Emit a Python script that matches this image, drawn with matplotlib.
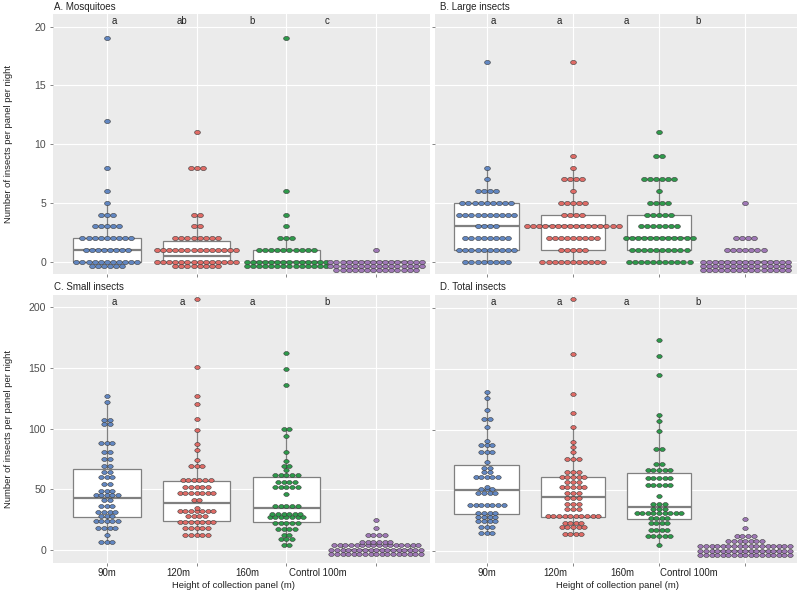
import numpy as np
import matplotlib
matplotlib.use("Agg")
import matplotlib.pyplot as plt
from matplotlib.path import Path
from matplotlib.transforms import blended_transform_factory

plt.rcParams['font.family'] = ['Liberation Sans', 'DejaVu Sans']

# ---------------- data ----------------
GROUPS = ["90m", "120m", "160m", "Control 100m"]
COLORS = ["#6287C2", "#DF6B66", "#2E9A4B", "#9F78B6"]

# Panel A: Mosquitoes  (value, count of nights)
A_VALUES = [[0, 1, 2, 3, 4, 5, 6, 8, 12, 19],
            [0, 1, 2, 3, 4, 8, 11],
            [0, 1, 2, 3, 4, 6, 19],
            [0, 1]]
A_COUNTS = [[17, 8, 9, 5, 3, 1, 1, 1, 1, 1],
            [22, 14, 8, 2, 2, 3, 1],
            [28, 10, 3, 1, 1, 1, 1],
            [46, 1]]
# box stats: q1, median, q3, lower whisker, upper whisker
A_BOX = [[0, 1, 2, 0, 5], [0, 0.5, 1.75, 0, 4], [0, 0, 1, 0, 2], [0, 0, 0, 0, 0]]
A_LETTERS = ["a", "ab", "b", "c"]

# Panel B: Large insects
B_VALUES = [[0, 1, 2, 3, 4, 5, 6, 7, 8, 17],
            [0, 1, 2, 3, 4, 5, 6, 7, 8, 9, 17],
            [0, 1, 2, 3, 4, 5, 6, 7, 9, 11],
            [0, 1, 2, 5]]
B_COUNTS = [[8, 10, 8, 4, 10, 9, 4, 1, 1, 1],
            [11, 5, 9, 16, 4, 5, 1, 4, 1, 1, 1],
            [11, 10, 12, 7, 5, 4, 1, 6, 2, 1],
            [45, 7, 4, 1]]
B_BOX = [[1, 3, 5, 0, 8], [1, 3, 4, 0, 8], [1, 2, 4, 0, 7], [0, 0, 0, 0, 0]]
B_LETTERS = ["a", "a", "a", "b"]

# Panel C: Small insects
C_VALUES = [[7, 12, 18, 24, 28, 31, 36, 41, 45, 49, 54, 60, 64, 69, 75, 81, 88, 104, 107, 122, 127],
            [12, 18, 23, 28, 32, 35, 41, 47, 52, 58, 69, 74, 82, 87, 99, 108, 120, 127, 151, 207],
            [4, 9, 12, 17, 22, 27, 30, 36, 46, 52, 56, 62, 66, 69, 73, 81, 94, 100, 136, 149, 162],
            [0, 4, 7, 12, 18, 25]]
C_COUNTS = [[3, 1, 4, 5, 3, 4, 3, 2, 5, 3, 2, 3, 2, 2, 2, 2, 3, 2, 2, 1, 1],
            [5, 5, 7, 4, 7, 1, 2, 7, 5, 6, 3, 1, 1, 1, 1, 1, 1, 1, 1, 1],
            [2, 3, 2, 4, 5, 7, 6, 5, 1, 5, 4, 5, 1, 2, 1, 1, 1, 2, 1, 1, 1],
            [34, 16, 6, 4, 1, 1]]
C_BOX = [[27.2, 43.1, 66.5, 7, 122], [23.9, 38.5, 56.6, 12, 99],
         [23.4, 34.9, 59.9, 4, 100], [0, 0, 4, 0, 7]]
C_LETTERS = ["a", "a", "a", "b"]

# Panel D: Total insects
D_VALUES = [[15, 20, 25, 28, 31, 38, 48, 51, 53, 61, 65, 68, 73, 82, 87, 91, 102, 109, 116, 126, 131],
            [14, 20, 23, 29, 35, 39, 44, 48, 53, 57, 61, 65, 76, 82, 86, 90, 102, 114, 129, 162, 208],
            [5, 12, 17, 23, 27, 31, 35, 39, 45, 54, 60, 67, 72, 84, 99, 107, 112, 145, 161, 174],
            [0, 4, 8, 12, 19, 26]]
D_COUNTS = [[3, 3, 4, 4, 4, 7, 4, 3, 1, 5, 2, 2, 1, 3, 3, 1, 1, 2, 1, 1, 1],
            [4, 5, 4, 10, 3, 3, 3, 3, 5, 3, 5, 3, 3, 1, 1, 1, 1, 1, 1, 1, 1],
            [1, 5, 4, 4, 4, 9, 3, 3, 1, 5, 5, 5, 2, 2, 1, 1, 1, 1, 1, 1],
            [34, 17, 7, 4, 1, 1]]
D_BOX = [[30.2, 50.3, 70.6, 15, 131], [27.8, 44.7, 61.2, 14, 102],
         [26.1, 36.5, 64.5, 5.5, 112], [0, 0, 4, 0, 8]]
D_LETTERS = ["a", "a", "a", "b"]

TITLES = ["A. Mosquitoes", "B. Large insects", "C. Small insects", "D. Total insects"]
YLABEL = "Number of insects per panel per night"
XLABEL = "Height of collection panel (m)"

# ---------------- layout / style ----------------
W, H = 799, 593
fig = plt.figure(figsize=(W / 100, H / 100), dpi=100)
fig.patch.set_facecolor("white")

PANEL_BG = "#EBEBEB"
BOX_EDGE = "#808080"
TEXT_COL = "#222222"
TICK_COL = "#4D4D4D"
XLIM = (0.4, 4.6)
POS = np.arange(1, 5)
TICKLAB_POS = [1.0, 1.8, 2.57, 3.35]
LETTER_POS = [1.08, 1.84, 2.62, 3.45]

circ = Path.unit_circle()
ELLIPSE = Path(circ.vertices * np.array([1.0, 0.72]), circ.codes)

panels = [
    dict(rect=(53, 14, 430, 274), title=TITLES[0], vals=A_VALUES, cnts=A_COUNTS, box=A_BOX,
         letters=A_LETTERS, ylim=(-1.05, 21.08), ticks=[0, 5, 10, 15, 20], labels=True,
         grid=[0, 5, 10, 15, 20], caps=[11, 14, 14, 16], dotw=5.8, spx=6.1, xlabels=False,
         xlab_x=None),
    dict(rect=(435, 14, 797, 274), title=TITLES[1], vals=B_VALUES, cnts=B_COUNTS, box=B_BOX,
         letters=B_LETTERS, ylim=(-1.05, 21.08), ticks=[0, 10, 20], labels=False,
         grid=[0, 5, 10, 15, 20], caps=[17, 17, 17, 15], dotw=5.8, spx=6.1, xlabels=False,
         xlab_x=None),
    dict(rect=(53, 295, 430, 563), title=TITLES[2], vals=C_VALUES, cnts=C_COUNTS, box=C_BOX,
         letters=C_LETTERS, ylim=(-10.7, 210.1), ticks=[0, 50, 100, 150, 200], labels=True,
         grid=[0, 50, 100, 150, 200], caps=[17, 17, 17, 17], dotw=5.4, spx=5.6, xlabels=True,
         xlab_x=234),
    dict(rect=(435, 295, 797, 563), title=TITLES[3], vals=D_VALUES, cnts=D_COUNTS, box=D_BOX,
         letters=D_LETTERS, ylim=(-9.9, 211.0), ticks=[0, 100, 200], labels=False,
         grid=[0, 50, 100, 150, 200], caps=[17, 17, 17, 17], dotw=5.4, spx=5.6, xlabels=True,
         xlab_x=617),
]

for p in panels:
    l, t, r, b = p["rect"]
    ax = fig.add_axes([l / W, 1 - b / H, (r - l) / W, (b - t) / H])
    ax.set_facecolor(PANEL_BG)
    for s in ax.spines.values():
        s.set_visible(False)
    px_x = (r - l) / (XLIM[1] - XLIM[0])
    px_y = (b - t) / (p["ylim"][1] - p["ylim"][0])

    # grid
    for g in p["grid"]:
        ax.axhline(g, color="white", lw=0.8, zorder=0.5)
    for x in POS:
        ax.axvline(x, color="white", lw=0.8, zorder=0.5)

    # boxes
    stats = [dict(q1=bx[0], med=bx[1], q3=bx[2], whislo=bx[3], whishi=bx[4], fliers=[])
             for bx in p["box"]]
    ax.bxp(stats, positions=POS, widths=0.75, patch_artist=True, showfliers=False,
           showcaps=False, manage_ticks=False,
           boxprops=dict(facecolor="white", edgecolor=BOX_EDGE, linewidth=0.9),
           medianprops=dict(color=BOX_EDGE, linewidth=1.6),
           whiskerprops=dict(color=BOX_EDGE, linewidth=0.9),
           zorder=2)

    # dots
    sp = p["spx"] / px_x
    dy = 4.4 / px_y
    for gi, (vals, cnts) in enumerate(zip(p["vals"], p["cnts"])):
        xs, ys = [], []
        cap = p["caps"][gi]
        for v, n in zip(vals, cnts):
            row = 0
            rem = n
            while rem > 0:
                m = min(rem, cap)
                offs = (np.arange(m) - (m - 1) / 2.0) * sp
                xs.extend(POS[gi] + offs)
                ys.extend([v - row * dy] * m)
                rem -= m
                row += 1
        ms = p["dotw"] * 0.72
        ax.scatter(xs, ys, s=ms ** 2, marker=ELLIPSE, facecolor=COLORS[gi],
                   edgecolor="#3a3a3a", linewidth=0.4, zorder=3, clip_on=False)

    ax.set_xlim(*XLIM)
    ax.set_ylim(*p["ylim"])

    # ticks
    ax.set_xticks(POS)
    ax.set_xticklabels([])
    ax.set_yticks(p["ticks"])
    if p["labels"]:
        ax.set_yticklabels([str(v) for v in p["ticks"]], fontsize=7.6, color=TICK_COL)
    else:
        ax.set_yticklabels([])
    ax.tick_params(axis="both", length=2.5, width=0.5, color="#555555", pad=2.5)

    # significance letters
    tr = blended_transform_factory(ax.transData, ax.transAxes)
    for xpos, let in zip(LETTER_POS, p["letters"]):
        ax.text(xpos, 0.973, let, transform=tr, ha="center", va="center",
                fontsize=6.9, color=TEXT_COL, zorder=5)

    # x tick labels (drawn as in the original, offset from the ticks)
    if p["xlabels"]:
        for xpos, lab in zip(TICKLAB_POS, GROUPS):
            ax.text(xpos, -10.5 / (b - t), lab, transform=tr, ha="center", va="center",
                    fontsize=6.9, color=TEXT_COL)
        fig.text(p["xlab_x"] / W, 1 - 585.5 / H, XLABEL, ha="center", va="center",
                 fontsize=6.8, color=TEXT_COL)

    # panel title
    fig.text((l + 1.5 if l < 100 else l + 4.5) / W, 1 - (t - 7.5) / H, p["title"],
             ha="left", va="center", fontsize=7.0, color=TEXT_COL)

    if p["labels"]:
        fig.text(8.5 / W, 1 - ((t + b) / 2) / H, YLABEL, rotation=90, ha="center",
                 va="center", fontsize=6.8, color=TEXT_COL)

fig.savefig("out.png", dpi=100, facecolor="white")
